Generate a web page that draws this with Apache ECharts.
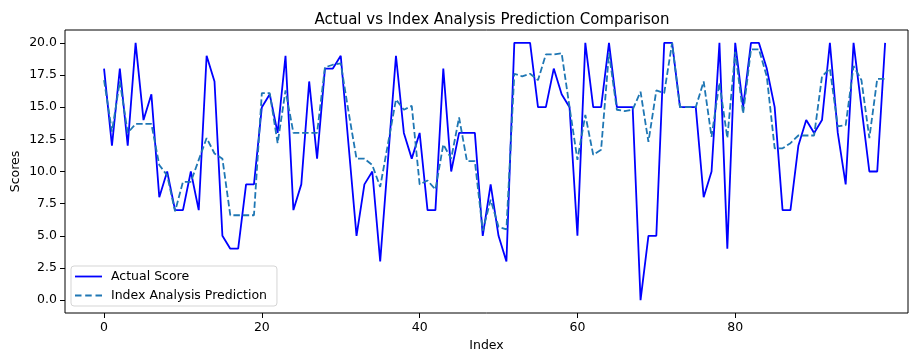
<!DOCTYPE html>
<html>
<head>
<meta charset="utf-8">
<script src="https://cdn.jsdelivr.net/npm/echarts@6/dist/echarts.min.js"></script>
<style>
  html, body { margin: 0; padding: 0; background: #fff; }
  #chart { width: 910px; height: 353px; }
</style>
</head>
<body>
<div id="chart"></div>
<script>
// Observed scores per index
const actualScore = [
  18, 12, 18, 12, 20, 14, 16, 8, 10, 7,
  7, 10, 7, 19, 17, 5, 4, 4, 9, 9,
  15, 16, 13, 19, 7, 9, 17, 11, 18, 18,
  19, 12, 5, 9, 10, 3, 11, 19, 13, 11,
  13, 7, 7, 18, 10, 13, 13, 13, 5, 9,
  5, 3, 20, 20, 20, 15, 15, 18, 16, 15,
  5, 20, 15, 15, 20, 15, 15, 15, 0, 5,
  5, 20, 20, 15, 15, 15, 8, 10, 20, 4,
  20, 15, 20, 20, 18, 15, 7, 7, 12, 14,
  13, 14, 20, 13, 9, 20, 15, 10, 10, 20
];

// Index-analysis predictions per index
const predictedScore = [
  17.1, 13.1, 17.0, 13.0, 13.7, 13.7, 13.7, 10.5, 9.7, 6.9,
  9.2, 9.2, 10.9, 12.6, 11.4, 11.0, 6.6, 6.6, 6.6, 6.6,
  16.1, 16.1, 12.2, 16.3, 13.0, 13.0, 13.0, 13.0, 18.1, 18.3,
  18.4, 14.6, 11.0, 11.0, 10.5, 8.8, 12.2, 15.6, 14.8, 15.1,
  9.0, 9.3, 8.6, 12.1, 11.0, 14.2, 10.8, 10.8, 5.4, 7.8,
  5.7, 5.5, 17.6, 17.4, 17.6, 17.1, 19.1, 19.1, 19.2, 15.0,
  10.9, 14.4, 11.3, 11.7, 19.2, 14.8, 14.7, 14.8, 16.2, 12.3,
  16.3, 16.1, 20.0, 15.0, 15.0, 15.0, 17.0, 12.7, 16.9, 12.6,
  19.3, 14.5, 19.5, 19.5, 17.4, 11.8, 11.8, 12.2, 12.8, 12.8,
  12.8, 17.4, 18.0, 13.5, 13.6, 18.2, 17.1, 12.6, 17.2, 17.2
];

const xTicks = [0, 20, 40, 60, 80];
const yTicks = [0, 2.5, 5, 7.5, 10, 12.5, 15, 17.5, 20];

const seriesNames = ['Actual Score', 'Index Analysis Prediction'];

const actualColor = '#0000ff';
const predictedColor = '#1f77b4';
const dashPattern = [6.5, 2.8];

const font = 'DejaVu Sans';
const labelSize = 12.5;
const chart = echarts.init(document.getElementById('chart'), null, { renderer: 'canvas' });

const toPairs = arr => arr.map((v, i) => [i, v]);

// Legend keys: a solid stroke and a three-dash stroke
const solidKey = 'path://M0,0H27V1.8H0Z';
const dashedKey = 'path://M0,0H6.5V1.8H0Z M10.2,0H16.7V1.8H10.2Z M20.5,0H27V1.8H20.5Z';

const axisText = { fontFamily: font, fontSize: labelSize, color: '#000' };

chart.setOption({
  animation: false,
  backgroundColor: '#fff',
  title: {
    text: 'Actual vs Index Analysis Prediction Comparison',
    left: 487, top: 8, textAlign: 'center',
    textStyle: { fontFamily: font, fontSize: 15, fontWeight: 'normal', color: '#000' }
  },
  grid: {
    left: 65, top: 30, right: 2, bottom: 40,
    outerBoundsMode: 'none', containLabel: false,
    show: true, borderColor: '#000', borderWidth: 1, backgroundColor: 'transparent'
  },
  legend: {
    left: 71, top: 266,
    orient: 'vertical',
    itemWidth: 27, itemHeight: 2, itemGap: 6,
    padding: [4, 10, 4, 4],
    borderColor: '#d5d5d5', borderWidth: 1, borderRadius: 3,
    backgroundColor: 'rgba(255,255,255,0.8)',
    textStyle: { fontFamily: font, fontSize: labelSize, color: '#000', padding: [0, 0, 0, 4] },
    data: [
      { name: seriesNames[0], icon: solidKey, itemStyle: { color: actualColor } },
      { name: seriesNames[1], icon: dashedKey, itemStyle: { color: predictedColor } }
    ]
  },
  xAxis: {
    type: 'value', min: -4.95, max: 101.9,
    name: 'Index', nameLocation: 'middle', nameGap: 25,
    nameTextStyle: axisText,
    axisLine: { show: false, onZero: false },
    axisTick: { show: true, inside: false, length: 5, lineStyle: { color: '#000' }, customValues: xTicks },
    axisLabel: Object.assign({ margin: 8, customValues: xTicks }, axisText),
    splitLine: { show: false }
  },
  yAxis: {
    type: 'value', min: -1, max: 21,
    name: 'Scores', nameLocation: 'middle', nameGap: 43, nameRotate: 90,
    nameMoveOverlap: false,
    nameTextStyle: axisText,
    axisLine: { show: false, onZero: false },
    axisTick: { show: true, inside: false, length: 5, lineStyle: { color: '#000' }, customValues: yTicks },
    axisLabel: Object.assign({
      margin: 8, customValues: yTicks,
      formatter: v => Number(v).toFixed(1)
    }, axisText),
    splitLine: { show: false }
  },
  series: [
    {
      name: seriesNames[0], type: 'line', data: toPairs(actualScore),
      symbol: 'none', color: actualColor,
      lineStyle: { color: actualColor, width: 1.8 }
    },
    {
      name: seriesNames[1], type: 'line', data: toPairs(predictedScore),
      symbol: 'none', color: predictedColor,
      lineStyle: { color: predictedColor, width: 1.8, type: dashPattern }
    }
  ]
});
</script>
</body>
</html>
